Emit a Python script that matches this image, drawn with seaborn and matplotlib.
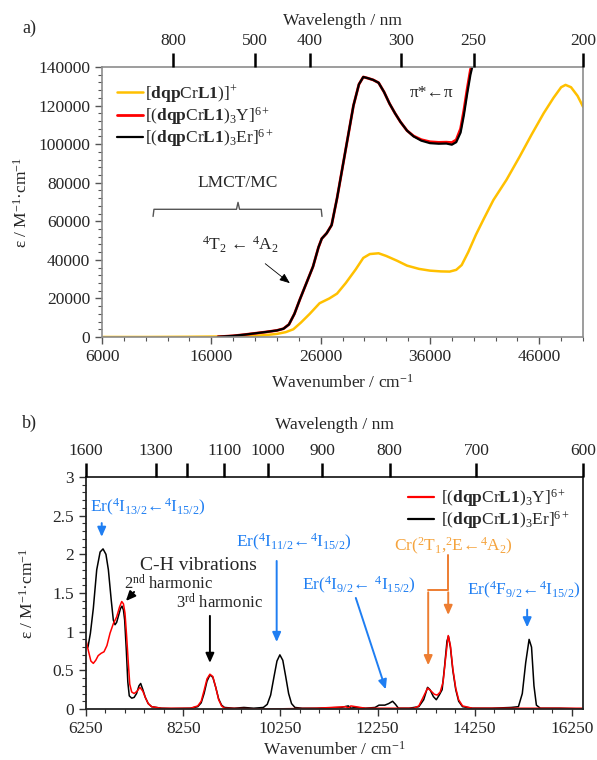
import numpy as np
import pandas as pd
import matplotlib
matplotlib.use("Agg")
import matplotlib.pyplot as plt
import seaborn as sns

# --- panel a: UV-Vis absorption (wavenumber / cm-1, epsilon / M-1 cm-1) ---
wn_mono = [6000, 10000, 14000, 18000, 20000, 21000, 22000, 22800, 23500, 24200,
           25000, 25900, 26800, 27500, 28300, 29200, 29900, 30500, 31300, 32000,
           33000, 33900, 35000, 36000, 37000, 37800, 38400, 38900, 39500, 40200,
           40900, 41800, 43000, 44200, 45300, 46400, 47300, 48000, 48400, 48900,
           49500, 50000]
eps_mono = [0, 0, 100, 300, 600, 1000, 1600, 2500, 4000, 7500,
            12000, 17500, 20000, 22500, 28000, 35000, 41000, 43000, 43400, 42000,
            39500, 37000, 35300, 34400, 34000, 33900, 34800, 37300, 44000, 53000,
            61000, 71000, 81500, 93500, 105000, 116000, 124000, 129500, 130700, 129500,
            125000, 119400]

wn_tri = [16600, 18000, 19000, 20000, 21000, 22000, 22600, 23100, 23600, 24100,
          24700, 25300, 25800, 26100, 26550, 27000, 27500, 28000, 28500, 29000,
          29500, 29900, 30300, 30800, 31300, 31800, 32300, 32800, 33300, 33900,
          34500, 35200, 36000, 36800, 37500, 38000, 38400, 38800, 39100, 39400,
          39700, 39950]
eps_y = [100, 600, 1200, 1900, 2600, 3400, 4300, 6500, 12000, 19500,
         28000, 36500, 46500, 51000, 53800, 58000, 72000, 88000, 104000, 120000,
         131000, 134800, 134200, 133300, 131800, 127000, 121000, 116000, 111500, 107000,
         104200, 102300, 101200, 100900, 101000, 100800, 102200, 108000, 117500, 128500,
         138500, 143000]
eps_er = [100, 600, 1200, 1900, 2600, 3400, 4300, 6500, 12000, 19500,
          28000, 36500, 46500, 51000, 53800, 58000, 72000, 88000, 104000, 120000,
          131000, 134800, 134200, 133300, 131800, 127000, 121000, 116000, 111500, 107000,
          104000, 101800, 100500, 100200, 100300, 99700, 101000, 106000, 115000, 126000,
          136000, 142000]

wl_ticks_a = [800, 500, 400, 300, 250, 200]

# --- panel b: NIR absorption ---
wn_er_b = [6250, 6290, 6340, 6400, 6470, 6540, 6600, 6660, 6710, 6770,
           6812, 6847, 6880, 6916, 6960, 6990, 7020, 7045, 7080, 7110,
           7140, 7190, 7240, 7290, 7340, 7375, 7420, 7470, 7530, 7600,
           7800, 8000, 8400, 8550, 8620, 8680, 8740, 8800, 8860, 8920,
           8980, 9040, 9100, 9300, 9500, 9700, 9900, 9980, 10050, 10120,
           10180, 10240, 10300, 10360, 10420, 10480, 10550, 10700, 11000, 11500,
           11650, 11700, 11800, 12000, 12200, 12280, 12400, 12480, 12560, 12620,
           12680, 12900, 13100, 13200, 13280, 13330, 13400, 13460, 13520, 13580,
           13630, 13680, 13710, 13750, 13800, 13860, 13920, 14000, 14200, 14600,
           15000, 15150, 15230, 15300, 15370, 15420, 15470, 15520, 15600, 16000,
           16480]
eps_er_b = [0.83, 0.80, 0.98, 1.30, 1.80, 2.03, 2.07, 2.00, 1.80, 1.40,
            1.15, 1.09, 1.12, 1.20, 1.30, 1.33, 1.28, 1.15, 0.75, 0.35,
            0.17, 0.14, 0.15, 0.20, 0.30, 0.33, 0.25, 0.15, 0.07, 0.03,
            0.01, 0.005, 0.01, 0.03, 0.08, 0.20, 0.36, 0.44, 0.41, 0.28,
            0.13, 0.05, 0.02, 0.01, 0.02, 0.01, 0.02, 0.06, 0.18, 0.42,
            0.62, 0.70, 0.63, 0.42, 0.20, 0.07, 0.02, 0.01, 0.01, 0.02,
            0.04, 0.01, 0.02, 0.01, 0.02, 0.05, 0.05, 0.07, 0.10, 0.06,
            0.01, 0.01, 0.03, 0.12, 0.28, 0.25, 0.16, 0.12, 0.18, 0.25,
            0.55, 0.88, 0.94, 0.80, 0.50, 0.25, 0.10, 0.03, 0.01, 0.01,
            0.02, 0.03, 0.20, 0.60, 0.90, 0.80, 0.30, 0.05, 0.01, 0.01,
            0.0]

wn_y_b = [6250, 6300, 6350, 6400, 6450, 6500, 6560, 6620, 6680, 6744,
          6810, 6880, 6940, 6985, 7020, 7052, 7085, 7120, 7150, 7190,
          7240, 7300, 7360, 7420, 7470, 7530, 7600, 7800, 8400, 8550,
          8620, 8680, 8740, 8800, 8860, 8920, 8980, 9040, 9100, 10000,
          11000, 11600, 11650, 11700, 12000, 13000, 13100, 13180, 13280, 13340,
          13420, 13480, 13540, 13600, 13650, 13705, 13750, 13800, 13860, 13920,
          14000, 14200, 16480]
eps_y_b = [0.89, 0.75, 0.62, 0.59, 0.63, 0.69, 0.72, 0.74, 0.82, 0.98,
           1.10, 1.19, 1.32, 1.39, 1.36, 1.24, 0.95, 0.60, 0.32, 0.22,
           0.20, 0.23, 0.28, 0.23, 0.15, 0.07, 0.03, 0.01, 0.01, 0.04,
           0.10, 0.24, 0.39, 0.45, 0.42, 0.28, 0.12, 0.04, 0.01, 0.0,
           0.01, 0.03, 0.01, 0.04, 0.01, 0.01, 0.04, 0.14, 0.27, 0.24,
           0.19, 0.18, 0.22, 0.35, 0.65, 0.95, 0.82, 0.52, 0.27, 0.12,
           0.04, 0.01, 0.01]

wl_ticks_b = [1600, 1300, 1200, 1100, 1000, 900, 800, 700, 600]
wl_labels_b = ["1600", "1300", "", "1100", "1000", "900", "800", "700", "600"]

lab_mono = r"[$\mathbf{dqp}$Cr$\mathbf{L1}$)]$^{+}$"
lab_y = r"[($\mathbf{dqp}$Cr$\mathbf{L1}$)$_3$Y]$^{6+}$"
lab_er = r"[($\mathbf{dqp}$Cr$\mathbf{L1}$)$_3$Er]$^{6+}$"

YELLOW = "#FFC000"
BLUE = "#1f7ef2"
ORANGE = "#ED7D31"
ORANGE_TXT = "#F5A33C"

sns.set_style("white")
plt.rcParams["font.family"] = ["Liberation Serif", "DejaVu Serif"]
plt.rcParams["mathtext.fontset"] = "custom"
plt.rcParams["mathtext.rm"] = "Liberation Serif"
plt.rcParams["mathtext.it"] = "Liberation Serif:italic"
plt.rcParams["mathtext.bf"] = "Liberation Serif:bold"
plt.rcParams["font.size"] = 12.5

fig = plt.figure(figsize=(5.97, 7.60), dpi=100)
ax1 = fig.add_axes([0.1709, 0.5566, 0.8057, 0.3553])
ax2 = fig.add_axes([0.1441, 0.0671, 0.8325, 0.3053])

# ---------------- panel a ----------------
df_mono = pd.DataFrame({"wn": wn_mono, "eps": eps_mono})
df_y = pd.DataFrame({"wn": wn_tri, "eps": eps_y})
df_er = pd.DataFrame({"wn": wn_tri, "eps": eps_er})
sns.lineplot(data=df_mono, x="wn", y="eps", ax=ax1, color=YELLOW, lw=1.8,
             label=lab_mono, estimator=None, sort=False)
sns.lineplot(data=df_y, x="wn", y="eps", ax=ax1, color="red", lw=2.0,
             label=lab_y, estimator=None, sort=False)
sns.lineplot(data=df_er, x="wn", y="eps", ax=ax1, color="black", lw=1.6,
             label=lab_er, estimator=None, sort=False)

ax1.set_xlim(6000, 50000)
ax1.set_ylim(0, 140000)
ax1.set_xticks(np.arange(6000, 50001, 10000))
ax1.set_xticks(np.arange(6000, 50001, 2000), minor=True)
ax1.set_yticks(np.arange(0, 140001, 20000))
ax1.set_yticks(np.arange(0, 140001, 4000), minor=True)
ax1.set_xlabel("")
ax1.set_ylabel("")
for s in ax1.spines.values():
    s.set_color("#8c8c8c")
    s.set_linewidth(1.2)
ax1.tick_params(which="both", direction="out", color="#555555", top=False, right=False,
                bottom=True, left=True)
ax1.tick_params(which="major", length=5, width=1.0, labelsize=12.5)
ax1.tick_params(which="minor", length=3, width=0.8)
ax1.text(0.5, -0.17, r"Wavenumber / cm$^{-1}$", transform=ax1.transAxes,
         ha="center", va="center", fontsize=12.5)
ax1.text(-0.166, 0.5, r"ε / M$^{-1}$·cm$^{-1}$", transform=ax1.transAxes,
         ha="center", va="center", rotation=90, fontsize=12.5)
ax1.text(0.5, 1.17, "Wavelength / nm", transform=ax1.transAxes,
         ha="center", va="center", fontsize=12.5)

top1 = ax1.twiny()
top1.set_xlim(ax1.get_xlim())
top1.set_xticks([1e7 / w for w in wl_ticks_a])
top1.set_xticklabels([str(w) for w in wl_ticks_a])
top1.tick_params(axis="x", direction="out", length=10, width=1.8, color="black",
                 labelsize=12.5, pad=3)
for s in top1.spines.values():
    s.set_visible(False)

leg1 = ax1.legend(loc="upper left", frameon=False, fontsize=12.5, handlelength=1.5,
                  handletextpad=0.15, labelspacing=0.0, borderaxespad=0.3,
                  bbox_to_anchor=(0.005, 0.985))

# annotations
brace_x = [10670, 10750, 18300, 18440, 18580, 26050, 26120]
brace_y = [62500, 66200, 66200, 69800, 66200, 66200, 62500]
ax1.plot(brace_x, brace_y, color="#555555", lw=1.0)
ax1.text(18440, 80000, "LMCT/MC", ha="center", va="center", fontsize=12.5)
ax1.text(18630, 47700, r"$^4$T$_2$ ← $^4$A$_2$", ha="center", va="center", fontsize=12.5)
ax1.annotate("", xy=(23380, 27000), xytext=(20730, 38900),
             arrowprops=dict(arrowstyle="-|>,head_length=0.5,head_width=0.2",
                             color="black", lw=0.6))
ax1.text(36190, 126500, "π*←π", ha="center", va="center", fontsize=12.5)
fig.text(0.05, 0.963, "a)", ha="center", va="center", fontsize=13)

# ---------------- panel b ----------------
df_erb = pd.DataFrame({"wn": wn_er_b, "eps": eps_er_b})
df_yb = pd.DataFrame({"wn": wn_y_b, "eps": eps_y_b})
sns.lineplot(data=df_erb, x="wn", y="eps", ax=ax2, color="black", lw=1.1,
             estimator=None, sort=False)
sns.lineplot(data=df_yb, x="wn", y="eps", ax=ax2, color="red", lw=1.1,
             estimator=None, sort=False)
h_y = plt.Line2D([], [], color="red", lw=1.6)
h_er = plt.Line2D([], [], color="black", lw=1.6)
ax2.legend([h_y, h_er], [lab_y, lab_er], loc="upper right", frameon=False,
           fontsize=12.5, handlelength=1.5, handletextpad=0.4, labelspacing=0.0,
           borderaxespad=0.2, bbox_to_anchor=(0.995, 1.0))

ax2.set_xlim(6250, 16480)
ax2.set_ylim(0, 3)
ax2.set_xticks(np.arange(6250, 16300, 2000))
ax2.set_xticks(np.arange(6250, 16480, 400), minor=True)
ax2.set_yticks(np.arange(0, 3.01, 0.5))
ax2.set_yticklabels(["0", "0.5", "1", "1.5", "2", "2.5", "3"])
ax2.set_yticks(np.arange(0, 3.01, 0.1), minor=True)
ax2.set_xlabel("")
ax2.set_ylabel("")
for s in ax2.spines.values():
    s.set_color("#222222")
    s.set_linewidth(1.3)
ax2.tick_params(which="both", direction="out", color="#333333", top=False, right=False,
                bottom=True, left=True)
ax2.tick_params(which="major", length=5, width=1.0, labelsize=12.5)
ax2.tick_params(which="minor", length=3, width=0.8)
ax2.text(0.5, -0.175, r"Wavenumber / cm$^{-1}$", transform=ax2.transAxes,
         ha="center", va="center", fontsize=12.5)
ax2.text(-0.117, 0.5, r"ε / M$^{-1}$·cm$^{-1}$", transform=ax2.transAxes,
         ha="center", va="center", rotation=90, fontsize=12.5)
ax2.text(0.5, 1.224, "Wavelength / nm", transform=ax2.transAxes,
         ha="center", va="center", fontsize=12.5)

top2 = ax2.twiny()
xmax_b = ax2.get_xlim()[1]
top2.set_xlim(ax2.get_xlim())
top2.set_xticks([min(1e7 / w, xmax_b) for w in wl_ticks_b])
top2.set_xticklabels(wl_labels_b)
top2.tick_params(axis="x", direction="out", length=10, width=1.8, color="black",
                 labelsize=12.5, pad=3)
for s in top2.spines.values():
    s.set_visible(False)

arrow_kw = dict(arrowstyle="-|>,head_length=0.45,head_width=0.2", lw=1.4)
ax2.text(7515, 2.60, r"Er($^4$I$_{13/2}$←$^4$I$_{15/2}$)", color=BLUE,
         ha="center", va="center", fontsize=12.5)
ax2.annotate("", xy=(6573, 2.19), xytext=(6573, 2.44), arrowprops=dict(color=BLUE, **arrow_kw))

ax2.text(8555, 1.85, "C-H vibrations", ha="center", va="center", fontsize=14)
ax2.text(7937, 1.62, r"2$^{\rm nd}$ harmonic", ha="center", va="center", fontsize=12)
ax2.annotate("", xy=(7032, 1.37), xytext=(7278, 1.54),
             arrowprops=dict(color="black", **arrow_kw))
ax2.text(9007, 1.37, r"3$^{\rm rd}$ harmonic", ha="center", va="center", fontsize=12)
ax2.annotate("", xy=(8800, 0.56), xytext=(8800, 1.24),
             arrowprops=dict(color="black", **arrow_kw))

ax2.text(10530, 2.16, r"Er($^4$I$_{11/2}$←$^4$I$_{15/2}$)", color=BLUE,
         ha="center", va="center", fontsize=12.5)
ax2.annotate("", xy=(10174, 0.83), xytext=(10174, 1.95), arrowprops=dict(color=BLUE, **arrow_kw))

ax2.text(11867, 1.60, r"Er($^4$I$_{9/2}$← $^4$I$_{15/2}$)", color=BLUE,
         ha="center", va="center", fontsize=12.5)
ax2.annotate("", xy=(12437, 0.22), xytext=(11785, 1.47), arrowprops=dict(color=BLUE, **arrow_kw))

ax2.text(13812, 2.10, r"Cr($^2$T$_1$,$^2$E←$^4$A$_2$)", color=ORANGE_TXT,
         ha="center", va="center", fontsize=12.5)
ax2.plot([13705, 13705, 13293], [1.99, 1.54, 1.54], color=ORANGE, lw=1.4)
ax2.annotate("", xy=(13293, 0.53), xytext=(13293, 1.545), arrowprops=dict(color=ORANGE, **arrow_kw))
ax2.annotate("", xy=(13705, 1.18), xytext=(13705, 1.545), arrowprops=dict(color=ORANGE, **arrow_kw))

ax2.text(15252, 1.53, r"Er($^4$F$_{9/2}$←$^4$I$_{15/2}$)", color=BLUE,
         ha="center", va="center", fontsize=12.5)
ax2.annotate("", xy=(15330, 1.02), xytext=(15330, 1.32), arrowprops=dict(color=BLUE, **arrow_kw))

fig.text(0.05, 0.443, "b)", ha="center", va="center", fontsize=13)

fig.savefig("out.png", dpi=100)
